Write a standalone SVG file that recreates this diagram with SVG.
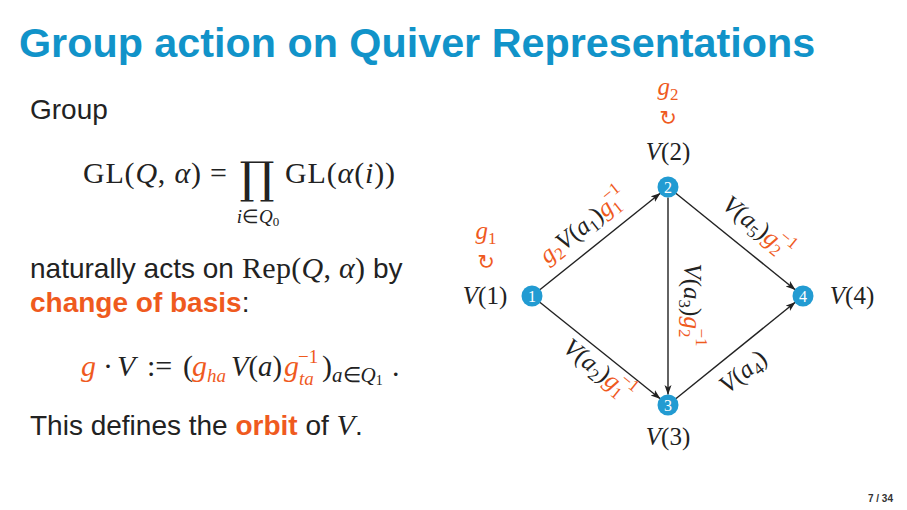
<svg xmlns="http://www.w3.org/2000/svg" width="907" height="510" viewBox="0 0 907 510">
<defs>
<style>
.title{font-family:"Liberation Sans",Arial,sans-serif;font-weight:bold;font-size:41.3px;fill:#1193c9}
.body{font-family:"Liberation Sans",Arial,sans-serif;font-size:28px;fill:#222}
.hl{font-weight:bold;fill:#ef5a1e}
.m{font-family:"Liberation Serif","Times New Roman",serif;fill:#222}
.mi{font-style:italic}
.o{fill:#ef5a1e}
.edge{stroke:#222;stroke-width:1.4;fill:none;marker-end:url(#arr)}
.nd{fill:#229bd2}
.num{font-family:"Liberation Serif",serif;font-size:16px;fill:#fff;text-anchor:middle}
.lab{font-family:"Liberation Serif",serif;font-size:25px;fill:#222}
.el{font-family:"Liberation Serif",serif;font-size:25px;fill:#222}
.rot{font-family:"DejaVu Sans",sans-serif;font-size:21px;fill:#ef5a1e;text-anchor:middle}
.foot{font-family:"Liberation Sans",Arial,sans-serif;font-weight:bold;font-size:10px;fill:#333}
</style>
<marker id="arr" markerUnits="userSpaceOnUse" markerWidth="11" markerHeight="8" refX="9.5" refY="3.5" orient="auto">
<path d="M0,0 L10,3.5 L0,7 L2.5,3.5 z" fill="#222"/>
</marker>
</defs>
<rect width="907" height="510" fill="#fff"/>

<text class="title" x="19" y="57">Group action on Quiver Representations</text>

<text class="body" x="30" y="119">Group</text>

<g id="gl-formula" class="m" font-size="30">
<text x="83" y="183" textLength="144" lengthAdjust="spacing">GL(<tspan class="mi">Q</tspan>, <tspan class="mi">α</tspan>) =</text>
<text x="257" y="193" font-size="44" text-anchor="middle" font-family="DejaVu Serif, serif">∏</text>
<text x="285" y="183" textLength="110" lengthAdjust="spacing">GL(<tspan class="mi">α</tspan>(<tspan class="mi">i</tspan>))</text>
<text x="258" y="223" font-size="19" text-anchor="middle"><tspan class="mi">i</tspan>∈<tspan class="mi">Q</tspan><tspan font-size="13" dy="3">0</tspan></text>
</g>

<text class="body" x="30" y="278">naturally acts on</text>
<text class="m" font-size="30" x="242" y="278" textLength="123" lengthAdjust="spacing">Rep(<tspan class="mi">Q</tspan>, <tspan class="mi">α</tspan>)</text>
<text class="body" x="373" y="278">by</text>
<text class="body" x="30" y="312"><tspan class="hl">change of basis</tspan>:</text>

<g id="action-formula" class="m" font-size="30">
<text x="81" y="376" class="mi o">g</text>
<text x="103" y="376">·</text>
<text x="117" y="376" class="mi">V</text>
<text x="147" y="376">:=</text>
<text x="183" y="376">(</text>
<text x="192" y="376" class="mi o">g</text>
<text x="207" y="382" font-size="19" class="mi o">ha</text>
<text x="231" y="376" textLength="51" lengthAdjust="spacingAndGlyphs"><tspan class="mi">V</tspan>(<tspan class="mi">a</tspan>)</text>
<text x="284" y="376" class="mi o">g</text>
<text x="298" y="363" font-size="19" class="o">−1</text>
<text x="299" y="385" font-size="19" class="mi o">ta</text>
<text x="322" y="376">)</text>
<text x="332" y="382" font-size="21"><tspan class="mi">a</tspan>∈<tspan class="mi">Q</tspan><tspan font-size="14" dy="3">1</tspan></text>
<text x="392" y="376">.</text>
</g>

<text class="body" x="30" y="435">This defines the <tspan class="hl">orbit</tspan> of <tspan font-family="Liberation Serif, serif" font-style="italic" font-size="30">V</tspan>.</text>

<g id="connectors">
<line class="edge" x1="539.8" y1="289.8" x2="660.2" y2="193.3"/>
<line class="edge" x1="668" y1="197.5" x2="668" y2="394.5"/>
<line class="edge" x1="539.8" y1="302.3" x2="660.2" y2="398.7"/>
<line class="edge" x1="675.8" y1="398.7" x2="795.2" y2="302.3"/>
<line class="edge" x1="675.8" y1="193.3" x2="795.2" y2="289.7"/>
<g class="el">
<text transform="translate(588,232) rotate(-38.7)" text-anchor="middle"><tspan class="mi o">g</tspan><tspan class="o" font-size="17" dy="5">2</tspan><tspan class="mi" dy="-5">V</tspan>(<tspan class="mi">a</tspan><tspan font-size="17" dy="5">1</tspan><tspan dy="-5">)</tspan><tspan class="mi o">g</tspan><tspan class="o" font-size="17" dy="5">1</tspan><tspan class="o" font-size="17" dx="-9" dy="-17">−1</tspan></text>
<text transform="translate(753,233) rotate(38.9)" text-anchor="middle"><tspan class="mi">V</tspan>(<tspan class="mi">a</tspan><tspan font-size="17" dy="5">5</tspan><tspan dy="-5">)</tspan><tspan class="mi o">g</tspan><tspan class="o" font-size="17" dy="5">2</tspan><tspan class="o" font-size="17" dx="-9" dy="-17">−1</tspan></text>
<text transform="translate(594,376) rotate(38.7)" text-anchor="middle"><tspan class="mi">V</tspan>(<tspan class="mi">a</tspan><tspan font-size="17" dy="5">2</tspan><tspan dy="-5">)</tspan><tspan class="mi o">g</tspan><tspan class="o" font-size="17" dy="5">1</tspan><tspan class="o" font-size="17" dx="-9" dy="-17">−1</tspan></text>
<text transform="translate(748,378) rotate(-38.9)" text-anchor="middle"><tspan class="mi">V</tspan>(<tspan class="mi">a</tspan><tspan font-size="17" dy="5">4</tspan><tspan dy="-5">)</tspan></text>
<text transform="translate(684,305) rotate(90)" text-anchor="middle"><tspan class="mi">V</tspan>(<tspan class="mi">a</tspan><tspan font-size="17" dy="5">3</tspan><tspan dy="-5">)</tspan><tspan class="mi o">g</tspan><tspan class="o" font-size="17" dy="5">2</tspan><tspan class="o" font-size="17" dx="-9" dy="-17">−1</tspan></text>
</g>
</g>

<g id="node1">
<circle class="nd" cx="532" cy="296" r="10.5"/>
<text class="num" x="532" y="301.5">1</text>
<text class="lab" x="485" y="304" text-anchor="middle"><tspan class="mi">V</tspan>(1)</text>
<text class="el" x="486" y="239" text-anchor="middle"><tspan class="mi o">g</tspan><tspan class="o" font-size="17" dy="5">1</tspan></text>
<text class="rot" x="486" y="269">↻</text>
</g>
<g id="node2">
<circle class="nd" cx="668" cy="187" r="10.5"/>
<text class="num" x="668" y="192.5">2</text>
<text class="lab" x="668" y="160" text-anchor="middle"><tspan class="mi">V</tspan>(2)</text>
<text class="el" x="668" y="95" text-anchor="middle"><tspan class="mi o">g</tspan><tspan class="o" font-size="17" dy="5">2</tspan></text>
<text class="rot" x="668" y="125">↻</text>
</g>
<g id="node3">
<circle class="nd" cx="668" cy="405" r="10.5"/>
<text class="num" x="668" y="410.5">3</text>
<text class="lab" x="668" y="445" text-anchor="middle"><tspan class="mi">V</tspan>(3)</text>
</g>
<g id="node4">
<circle class="nd" cx="803" cy="296" r="10.5"/>
<text class="num" x="803" y="301.5">4</text>
<text class="lab" x="852" y="304" text-anchor="middle"><tspan class="mi">V</tspan>(4)</text>
</g>

<text class="foot" x="893" y="502" text-anchor="end">7 / 34</text>
</svg>
